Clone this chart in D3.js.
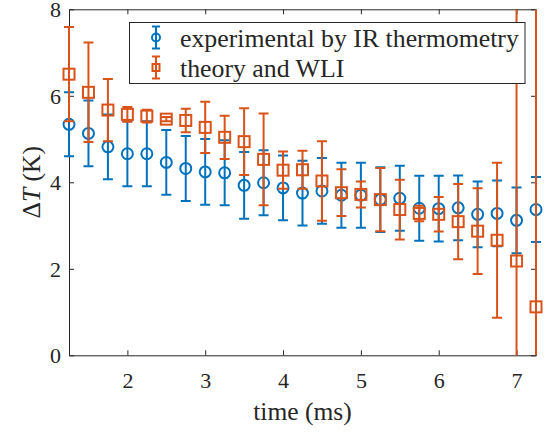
<!DOCTYPE html>
<html>
<head>
<meta charset="utf-8">
<script src="https://cdn.jsdelivr.net/npm/d3@7"></script>
<style>
  body { margin: 0; background: #fff; }
  svg text { font-family: "Liberation Serif", "Times New Roman", serif; fill: #262626; }
</style>
</head>
<body>
<div id="chart"></div>
<script>
// sample times (ms)
var times = [1.25, 1.5, 1.75, 2, 2.25, 2.5, 2.75, 3, 3.25, 3.5, 3.75, 4, 4.25,
  4.5, 4.75, 5, 5.25, 5.5, 5.75, 6, 6.25, 6.5, 6.75, 7, 7.25];

// experimental by IR thermometry
var irValues = [5.34, 5.13, 4.82, 4.66, 4.66, 4.46, 4.32, 4.24, 4.22, 3.93, 3.99, 3.87, 3.75,
  3.80, 3.70, 3.70, 3.60, 3.63, 3.40, 3.39, 3.41, 3.26, 3.28, 3.12, 3.37];
var irErrors = [0.74, 0.76, 0.75, 0.75, 0.75, 0.75, 0.75, 0.76, 0.75, 0.77, 0.75, 0.75, 0.75,
  0.76, 0.75, 0.75, 0.75, 0.75, 0.75, 0.76, 0.75, 0.76, 0.76, 0.76, 0.75];

// theory and WLI
var wliValues = [6.50, 6.08, 5.67, 5.57, 5.53, 5.46, 5.43, 5.27, 5.04, 4.94, 4.53, 4.28, 4.29,
  4.03, 3.76, 3.72, 3.60, 3.37, 3.28, 3.26, 3.09, 2.87, 2.66, 2.18, 1.12];
var wliErrors = [1.09, 1.15, 0.72, 0.17, 0.15, 0.05, 0.27, 0.59, 0.50, 0.77, 1.06, 0.43, 0.44,
  0.92, 0.54, 0.30, 0.73, 0.69, 0.18, 0.40, 0.87, 0.99, 1.79, 6.5, 7.5];

var xTicks = [2, 3, 4, 5, 6, 7];
var yTicks = [0, 2, 4, 6, 8];
var seriesNames = ['experimental by IR thermometry', 'theory and WLI'];
var seriesColors = ['#0072BD', '#D95319'];

var W = 546, H = 435;
var box = {left: 69, right: 536, top: 9.3, bottom: 355.3};
var axisColor = '#262626';

var svg = d3.select('#chart').append('svg')
  .attr('width', W)
  .attr('height', H);

var x = d3.scaleLinear().domain([1.25, 7.25]).range([box.left, box.right]);
var y = d3.scaleLinear().domain([0, 8]).range([box.bottom, box.top]);

// clip only vertically, caps may stick out at the sides
svg.append('clipPath').attr('id', 'plotClip')
  .append('rect')
  .attr('x', 0).attr('y', box.top)
  .attr('width', W).attr('height', box.bottom - box.top);

function drawAxes() {
  var fmt = d3.format('d');
  var bottom = svg.append('g')
    .attr('transform', 'translate(0,' + box.bottom + ')')
    .call(d3.axisBottom(x).tickValues(xTicks).tickFormat(fmt)
      .tickSizeInner(-5).tickSizeOuter(0).tickPadding(17));
  var top = svg.append('g')
    .attr('transform', 'translate(0,' + box.top + ')')
    .call(d3.axisTop(x).tickValues(xTicks).tickSizeInner(-5).tickSizeOuter(0).tickFormat(''));
  var left = svg.append('g')
    .attr('transform', 'translate(' + box.left + ',0)')
    .call(d3.axisLeft(y).tickValues(yTicks).tickFormat(fmt)
      .tickSizeInner(-5).tickSizeOuter(0).tickPadding(8));
  var right = svg.append('g')
    .attr('transform', 'translate(' + box.right + ',0)')
    .call(d3.axisRight(y).tickValues(yTicks).tickSizeInner(-5).tickSizeOuter(0).tickFormat(''));

  [bottom, top, left, right].forEach(function(g) {
    g.attr('font-family', null).attr('font-size', null);
    g.select('.domain').attr('stroke', axisColor).attr('stroke-width', 1);
    g.selectAll('.tick line').attr('stroke', axisColor).attr('stroke-width', 1);
    g.selectAll('.tick text')
      .attr('fill', axisColor)
      .style('font-size', '22px');
  });
  left.selectAll('.tick text').attr('dy', '0.34em');

  svg.append('text')
    .attr('x', (box.left + box.right) / 2)
    .attr('y', 420)
    .attr('text-anchor', 'middle')
    .style('font-size', '25.5px')
    .text('time (ms)');

  var ylab = svg.append('text')
    .attr('transform', 'translate(39.5,' + (box.top + box.bottom) / 2 + ') rotate(-90)')
    .attr('text-anchor', 'middle')
    .style('font-size', '25.5px');
  ylab.append('tspan').text('\u0394');
  ylab.append('tspan').style('font-style', 'italic').text('T');
  ylab.append('tspan').text(' (K)');
}

function drawErrorBars(values, errors, color, marker) {
  var rows = times.map(function(t, i) {
    return {t: t, v: values[i], e: errors[i]};
  });
  var capHalf = 5;

  var bars = svg.append('g')
    .attr('clip-path', 'url(#plotClip)')
    .attr('stroke', color)
    .attr('stroke-width', 2)
    .attr('fill', 'none');

  bars.selectAll('line.stem').data(rows).enter().append('line')
    .attr('class', 'stem')
    .attr('x1', function(d) { return x(d.t); })
    .attr('x2', function(d) { return x(d.t); })
    .attr('y1', function(d) { return y(d.v - d.e); })
    .attr('y2', function(d) { return y(d.v + d.e); });

  [-1, 1].forEach(function(sign) {
    bars.selectAll('line.cap' + (sign + 1)).data(rows).enter().append('line')
      .attr('class', 'cap' + (sign + 1))
      .attr('x1', function(d) { return x(d.t) - capHalf; })
      .attr('x2', function(d) { return x(d.t) + capHalf; })
      .attr('y1', function(d) { return y(d.v + sign * d.e); })
      .attr('y2', function(d) { return y(d.v + sign * d.e); });
  });

  var marks = svg.append('g')
    .attr('stroke', color)
    .attr('stroke-width', 2)
    .attr('fill', 'none');

  if (marker === 'circle') {
    marks.selectAll('circle').data(rows).enter().append('circle')
      .attr('cx', function(d) { return x(d.t); })
      .attr('cy', function(d) { return y(d.v); })
      .attr('r', 5.5);
  } else {
    var s = 11;
    marks.selectAll('rect').data(rows).enter().append('rect')
      .attr('x', function(d) { return x(d.t) - s / 2; })
      .attr('y', function(d) { return y(d.v) - s / 2; })
      .attr('width', s)
      .attr('height', s);
  }
}

function drawLegend() {
  var g = svg.append('g');
  g.append('rect')
    .attr('x', 129.5).attr('y', 22.5)
    .attr('width', 395.5).attr('height', 61)
    .attr('fill', '#fff')
    .attr('stroke', axisColor)
    .attr('stroke-width', 1);

  var rowsY = [37.5, 67.5];
  var mx = 156;
  seriesNames.forEach(function(name, i) {
    var cy = rowsY[i];
    var item = g.append('g')
      .attr('stroke', seriesColors[i])
      .attr('stroke-width', 2)
      .attr('fill', 'none');
    item.append('line').attr('x1', mx).attr('x2', mx).attr('y1', cy - 11).attr('y2', cy + 11);
    item.append('line').attr('x1', mx - 4).attr('x2', mx + 4).attr('y1', cy - 11).attr('y2', cy - 11);
    item.append('line').attr('x1', mx - 4).attr('x2', mx + 4).attr('y1', cy + 11).attr('y2', cy + 11);
    if (i === 0) {
      item.append('circle').attr('cx', mx).attr('cy', cy).attr('r', 4);
    } else {
      item.append('rect').attr('x', mx - 3.5).attr('y', cy - 3.5).attr('width', 7).attr('height', 7);
    }
    g.append('text')
      .attr('x', 180)
      .attr('y', cy + 9)
      .style('font-size', '25.8px')
      .text(name);
  });
}

drawAxes();
drawErrorBars(irValues, irErrors, seriesColors[0], 'circle');
drawErrorBars(wliValues, wliErrors, seriesColors[1], 'square');
drawLegend();
</script>
</body>
</html>
